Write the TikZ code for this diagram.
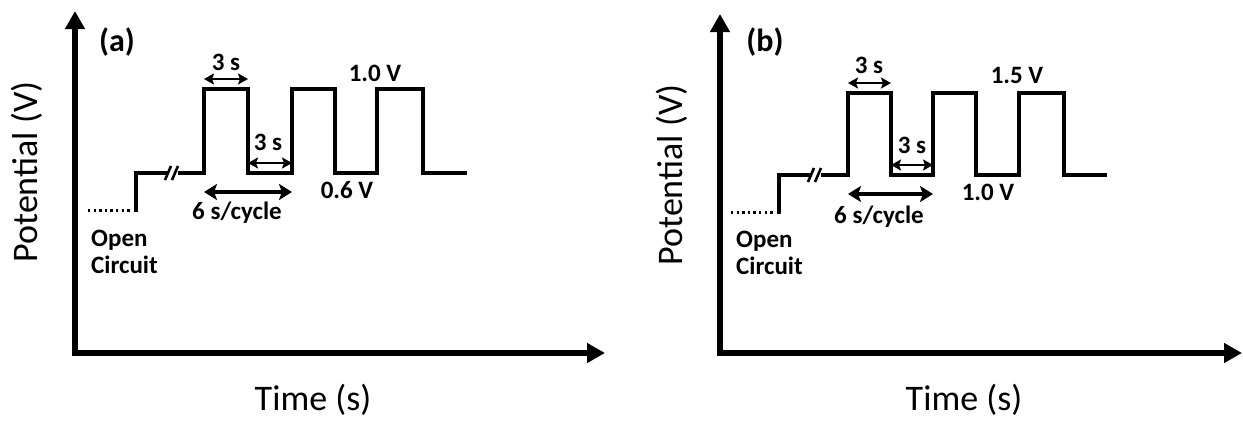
\documentclass[tikz,border=0pt]{standalone}
\usepackage{fontspec}
\setmainfont{Carlito}
\usetikzlibrary{arrows.meta,positioning}
\tikzset{
  % axlar
  ax/.style={line width=5.8pt,line join=miter,
             {Triangle[length=18pt,width=19pt]}-{Triangle[length=18pt,width=19pt]}},
  axl/.style={font=\fontsize{36}{40}\selectfont,inner sep=0pt},
  tag/.style={font=\fontsize{32}{36}\selectfont\bfseries,inner sep=0pt},
  % kurvan
  wave/.style={line width=3.2pt,line join=miter},
  oc/.style={line width=3pt,dash pattern=on 2.4pt off 3.2pt},
  brk/.style={line width=2.6pt},
  dim/.style={line width=2.2pt,{Stealth[length=10pt,width=11pt,inset=2pt]}-{Stealth[length=10pt,width=11pt,inset=2pt]}},
  cyc/.style={line width=3.6pt,{Stealth[length=13pt,width=16pt,inset=3pt]}-{Stealth[length=13pt,width=16pt,inset=3pt]}},
  lbl/.style={font=\fontsize{25}{27}\selectfont\bfseries,inner sep=0pt},
}
\begin{document}
\begin{tikzpicture}[x=1pt,y=-1pt]
\useasboundingbox (0,0) rectangle (1243,421);
  % (a)
  \coordinate (oa) at (75,353);
  \coordinate (ya) at (75,11);
  \coordinate (xa) at (605,353);
  \draw[ax] (ya) -- (oa) -- (xa);
  \node[axl,rotate=90] (pa) at (27,172) {Potential (V)};
  \node[axl] (ta) at (313,400) {Time (s)};
  \node[tag] (la) at (117,42) {(a)};
  \coordinate (l0a) at (136,173);
  \coordinate (l1a) at (204,173);
  \coordinate (h1a) at (204,89);
  \coordinate (h2a) at (248,89);
  \coordinate (l2a) at (248,173);
  \coordinate (l3a) at (292,173);
  \coordinate (h3a) at (292,89);
  \coordinate (h4a) at (335,89);
  \coordinate (l4a) at (335,173);
  \coordinate (l5a) at (377,173);
  \coordinate (h5a) at (377,89);
  \coordinate (h6a) at (423,89);
  \coordinate (l6a) at (423,173);
  \coordinate (ea) at (467,173);
  \draw[oc] (88,210) -- (132,210);
  \draw[wave] (136,211.6) -- (l0a) -- (168,173);
  \draw[wave] (178,173) -- (l1a) -- (h1a) -- (h2a) -- (l2a) -- (l3a) -- (h3a) -- (h4a)
    -- (l4a) -- (l5a) -- (h5a) -- (h6a) -- (l6a) -- (ea);
  \draw[brk] (165,180) -- (171,166) (172,180) -- (178,166);
  \draw[dim] ([yshift=10pt]h1a) -- ([yshift=10pt]h2a);
  \draw[dim] ([yshift=10pt]l2a) -- ([yshift=10pt]l3a);
  \draw[cyc] ([yshift=-19pt]l1a) -- ([yshift=-19pt]l3a);
  \node[lbl] (t1a) at (226,62) {3 s};
  \node[lbl] (t2a) at (268,142) {3 s};
  \node[lbl] (cya) at (237,213) {6 s/cycle};
  \node[lbl] (va) at (375,73) {1.0 V};
  \node[lbl] (wa) at (347,190) {0.6 V};
  \node[lbl,align=left,anchor=west] (oca) at (91,252) {Open\\Circuit};
  % (b)
  \coordinate (ob) at (720,353);
  \coordinate (yb) at (720,14);
  \coordinate (xb) at (1242,353);
  \draw[ax] (yb) -- (ob) -- (xb);
  \node[axl,rotate=90] (pb) at (672,175) {Potential (V)};
  \node[axl] (tb) at (964,400) {Time (s)};
  \node[tag] (lb) at (765,42) {(b)};
  \coordinate (l0b) at (779,175);
  \coordinate (l1b) at (848,175);
  \coordinate (h1b) at (848,93);
  \coordinate (h2b) at (891,93);
  \coordinate (l2b) at (891,175);
  \coordinate (l3b) at (933,175);
  \coordinate (h3b) at (933,93);
  \coordinate (h4b) at (976,93);
  \coordinate (l4b) at (976,175);
  \coordinate (l5b) at (1019,175);
  \coordinate (h5b) at (1019,93);
  \coordinate (h6b) at (1064,93);
  \coordinate (l6b) at (1064,175);
  \coordinate (eb) at (1107,175);
  \draw[oc] (731,212) -- (775,212);
  \draw[wave] (779,213.6) -- (l0b) -- (811,175);
  \draw[wave] (821,175) -- (l1b) -- (h1b) -- (h2b) -- (l2b) -- (l3b) -- (h3b) -- (h4b)
    -- (l4b) -- (l5b) -- (h5b) -- (h6b) -- (l6b) -- (eb);
  \draw[brk] (808,182) -- (814,168) (815,182) -- (821,168);
  \draw[dim] ([yshift=10pt]h1b) -- ([yshift=10pt]h2b);
  \draw[dim] ([yshift=10pt]l2b) -- ([yshift=10pt]l3b);
  \draw[cyc] ([yshift=-19pt]l1b) -- ([yshift=-19pt]l3b);
  \node[lbl] (t1b) at (869,65) {3 s};
  \node[lbl] (t2b) at (912,145) {3 s};
  \node[lbl] (cyb) at (879,217) {6 s/cycle};
  \node[lbl] (vb) at (1017,75) {1.5 V};
  \node[lbl] (wb) at (988,192) {1.0 V};
  \node[lbl,align=left,anchor=west] (ocb) at (736,253) {Open\\Circuit};
\end{tikzpicture}
\end{document}
